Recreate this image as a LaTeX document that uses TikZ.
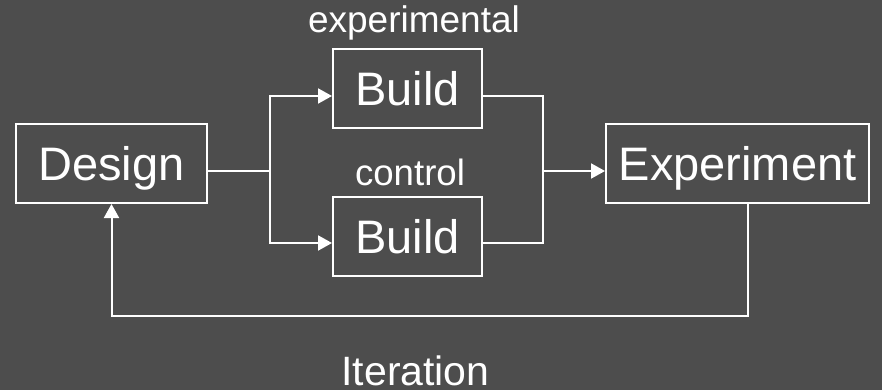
\documentclass[tikz,border=0pt]{standalone}
\usepackage{fontspec}
\setmainfont{Liberation Sans}
\usetikzlibrary{arrows.meta,calc}
\definecolor{bg}{HTML}{4D4D4D}
\begin{document}
\begin{tikzpicture}[x=1pt,y=-1pt,
  box/.style={draw=white,line width=2pt,inner sep=0pt,text=white,font=\fontsize{47}{50}\selectfont,text height=34pt,text depth=0pt,minimum height=79pt},
  lbl/.style={text=white,inner sep=0pt,anchor=base},
  conn/.style={draw=white,line width=2pt},
  arr/.style={conn,-{Triangle[length=14pt,width=15pt]}}]
\fill[bg] (0,0) rectangle (882,390);
\useasboundingbox (0,0) rectangle (882,390);
\node[box,minimum width=191pt] (design) at (111.5,163.5) {Design};
\node[box,minimum width=149pt] (b1) at (407.5,88.5) {Build};
\node[box,minimum width=149pt] (b2) at (407.5,236.5) {Build};
\node[box,minimum width=263pt] (exp) at (737.5,163.5) {Experiment};
\node[lbl,font=\fontsize{37}{40}\selectfont] (lexp) at (414,33) {experimental};
\node[lbl,font=\fontsize{36.6}{40}\selectfont] (lctl) at (410,185) {control};
\node[lbl,font=\fontsize{41}{44}\selectfont] (lit) at (415.5,385) {Iteration};
\coordinate (split) at (270,171);
\coordinate (join) at (543,171);
\coordinate (b1in) at ($(b1.west)+(0,7.5)$);
\coordinate (b2in) at ($(b2.west)+(0,6.5)$);
\coordinate (b1out) at ($(b1.east)+(0,7.5)$);
\coordinate (b2out) at ($(b2.east)+(0,6.5)$);
\coordinate (fb) at (748,316);
\draw[conn] (design.east |- split) -- (split);
\draw[arr] (split) |- (b1in);
\draw[arr] (split) |- (b2in);
\draw[conn] (b1out) -| (join) |- (b2out);
\draw[arr] (join) -- (exp.west |- join);
\draw[arr] (exp.south -| fb) -- (fb) -| (design.south);
\end{tikzpicture}
\end{document}
